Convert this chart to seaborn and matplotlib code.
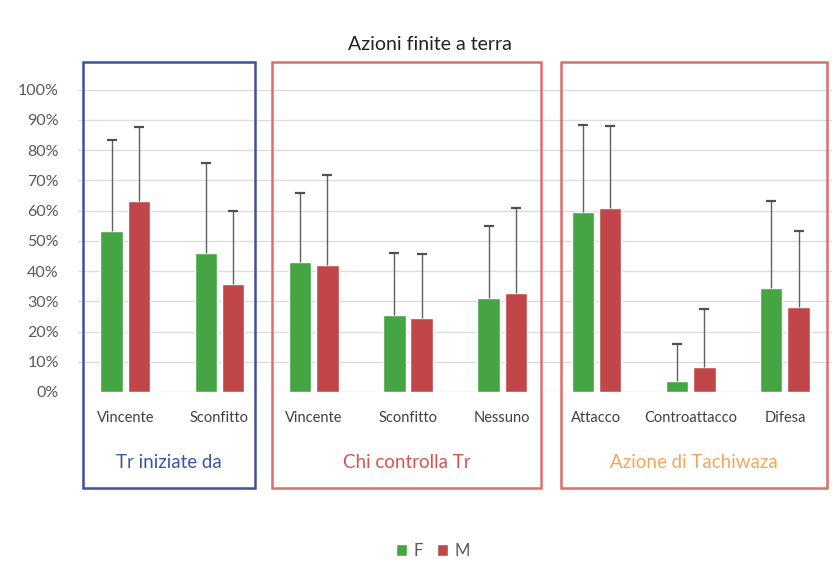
import numpy as np
import pandas as pd
import matplotlib.pyplot as plt
import matplotlib.patches as mpatches
import seaborn as sns

# values (fractions)
categories = ['Vincente', 'Sconfitto', 'Vincente ', 'Sconfitto ', 'Nessuno',
              'Attacco', 'Controattacco', 'Difesa']
tick_labels = ['Vincente', 'Sconfitto', 'Vincente', 'Sconfitto', 'Nessuno',
               'Attacco', 'Controattacco', 'Difesa']
f_vals = [0.533, 0.461, 0.429, 0.255, 0.310, 0.594, 0.037, 0.345]
m_vals = [0.632, 0.356, 0.420, 0.244, 0.328, 0.609, 0.084, 0.282]
f_top = [0.835, 0.756, 0.657, 0.461, 0.550, 0.883, 0.158, 0.631]
m_top = [0.877, 0.598, 0.717, 0.458, 0.609, 0.879, 0.273, 0.533]
groups = ['Tr iniziate da', 'Chi controlla Tr', 'Azione di Tachiwaza']
group_colors = ['#3b55a6', '#d9534f', '#f2a65a']
box_colors = ['#3f4f9f', '#e06c6c', '#e06c6c']

df = pd.DataFrame({
    'cat': categories * 2,
    'sex': ['F'] * len(categories) + ['M'] * len(categories),
    'val': f_vals + m_vals,
})

sns.set_style('white')
plt.rcParams['font.family'] = ['Lato', 'DejaVu Sans']

fig = plt.figure(figsize=(8.32, 5.62), dpi=100)
ax = fig.add_axes([0.094, 0.3025, 0.906, 0.538])

palette = {'F': '#45a543', 'M': '#c0464a'}
sns.barplot(data=df, x='cat', y='val', hue='sex', order=categories,
            palette=palette, width=0.58, gap=0.18, saturation=1,
            errorbar=None, ax=ax)

# upper-only error bars: a stem from the bar top and a cap at the end
for cont, tops in zip(ax.containers, [f_top, m_top]):
    xs = [p.get_x() + p.get_width() / 2 for p in cont]
    hs = [p.get_height() for p in cont]
    ax.vlines(xs, hs, tops, color='#606060', linewidth=1, zorder=3)
    ax.scatter(xs, tops, marker='_', s=45, color='#505050',
               linewidths=1.6, zorder=3)

ax.set_ylim(0, 1)
ax.set_xlim(-0.5, len(categories) - 0.5)
ax.set_yticks(np.arange(0, 1.01, 0.1))
ax.set_yticklabels([f'{int(round(v * 100))}%' for v in np.arange(0, 1.01, 0.1)],
                   fontsize=11.5, color='#595959')
ax.set_xticks(range(len(categories)))
ax.set_xticklabels(tick_labels, fontsize=10.5, color='#404040')
ax.tick_params(axis='x', pad=14, length=0)
ax.tick_params(axis='y', pad=14, length=0)
ax.yaxis.grid(True, color='#dcdcdc', linewidth=1)
ax.set_axisbelow(True)
ax.set_xlabel('')
ax.set_ylabel('')
sns.despine(ax=ax, left=True, bottom=True)

# group boxes and labels (pixel positions in an 832x562 figure)
W, H = 832, 562
boxes = [(83, 255), (272, 541), (561, 827)]
for (x0, x1), name, tc, bc in zip(boxes, groups, group_colors, box_colors):
    fig.patches.append(mpatches.Rectangle(
        (x0 / W, 1 - 488 / H), (x1 - x0) / W, (488 - 62) / H,
        transform=fig.transFigure, fill=False, edgecolor=bc, linewidth=1.8))
    fig.text((x0 + x1) / 2 / W, 1 - 463 / H, name, ha='center', va='center',
             fontsize=13.5, color=tc)

fig.text(430 / W, 1 - 44 / H, 'Azioni finite a terra', ha='center',
         va='center', fontsize=14, color='#222222')

handles, labels = ax.get_legend_handles_labels()
ax.legend_.remove()
fig.legend(handles, labels, loc='center', bbox_to_anchor=(433 / W, 1 - 551 / H),
           ncol=2, frameon=False, fontsize=12, handlelength=0.7,
           handleheight=0.7, handletextpad=0.4, columnspacing=0.8,
           labelcolor='#595959')

fig.savefig('out.png', dpi=100)
